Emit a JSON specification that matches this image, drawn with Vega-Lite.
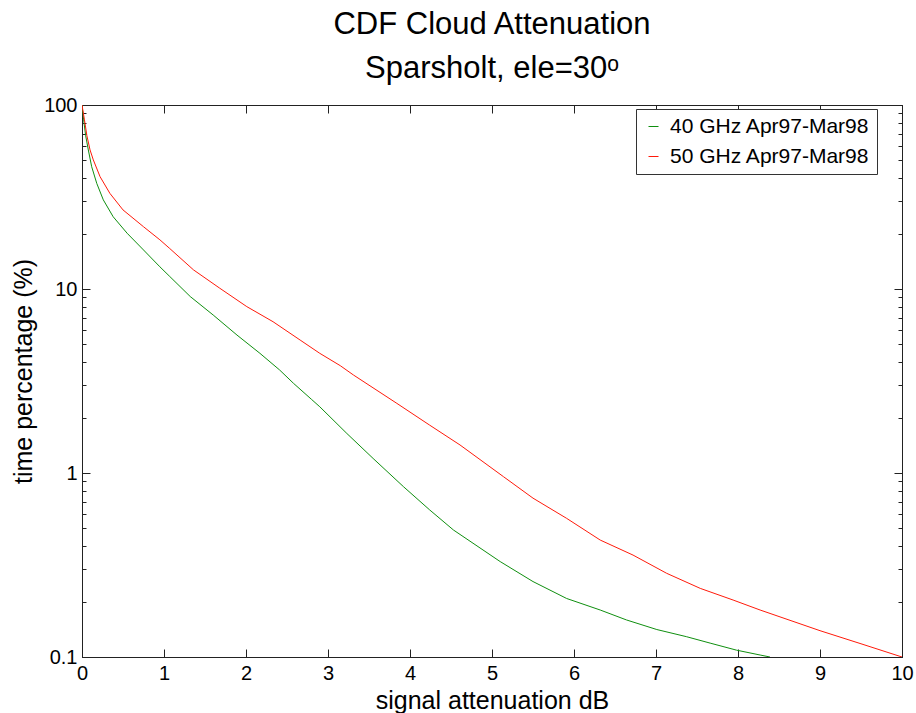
{
  "$schema": "https://vega.github.io/schema/vega-lite/v6.json",
  "width": 820,
  "height": 552,
  "autosize": "none",
  "padding": {"left": 82, "top": 105, "right": 14, "bottom": 56},
  "background": "white",
  "title": {
    "text": ["CDF Cloud Attenuation", "Sparsholt, ele=30ᵒ"],
    "font": "Liberation Sans",
    "fontSize": 31,
    "fontWeight": "normal",
    "color": "black",
    "lineHeight": 44,
    "anchor": "middle",
    "offset": 10
  },
  "data": {
    "values": [
      {"att": 0, "pct": 100, "series": "40 GHz Apr97-Mar98"},
      {"att": 0.02, "pct": 83, "series": "40 GHz Apr97-Mar98"},
      {"att": 0.045, "pct": 68, "series": "40 GHz Apr97-Mar98"},
      {"att": 0.077, "pct": 57, "series": "40 GHz Apr97-Mar98"},
      {"att": 0.118, "pct": 46.2, "series": "40 GHz Apr97-Mar98"},
      {"att": 0.18, "pct": 37.5, "series": "40 GHz Apr97-Mar98"},
      {"att": 0.26, "pct": 30.5, "series": "40 GHz Apr97-Mar98"},
      {"att": 0.38, "pct": 24.7, "series": "40 GHz Apr97-Mar98"},
      {"att": 0.55, "pct": 20.1, "series": "40 GHz Apr97-Mar98"},
      {"att": 0.75, "pct": 16.3, "series": "40 GHz Apr97-Mar98"},
      {"att": 0.95, "pct": 13.2, "series": "40 GHz Apr97-Mar98"},
      {"att": 1.07, "pct": 11.7, "series": "40 GHz Apr97-Mar98"},
      {"att": 1.32, "pct": 9.1, "series": "40 GHz Apr97-Mar98"},
      {"att": 1.6, "pct": 7.22, "series": "40 GHz Apr97-Mar98"},
      {"att": 1.89, "pct": 5.62, "series": "40 GHz Apr97-Mar98"},
      {"att": 2.17, "pct": 4.47, "series": "40 GHz Apr97-Mar98"},
      {"att": 2.41, "pct": 3.63, "series": "40 GHz Apr97-Mar98"},
      {"att": 2.58, "pct": 3.07, "series": "40 GHz Apr97-Mar98"},
      {"att": 2.8, "pct": 2.51, "series": "40 GHz Apr97-Mar98"},
      {"att": 2.9, "pct": 2.29, "series": "40 GHz Apr97-Mar98"},
      {"att": 3.23, "pct": 1.64, "series": "40 GHz Apr97-Mar98"},
      {"att": 3.55, "pct": 1.2, "series": "40 GHz Apr97-Mar98"},
      {"att": 3.92, "pct": 0.843, "series": "40 GHz Apr97-Mar98"},
      {"att": 4.24, "pct": 0.63, "series": "40 GHz Apr97-Mar98"},
      {"att": 4.53, "pct": 0.49, "series": "40 GHz Apr97-Mar98"},
      {"att": 5.1, "pct": 0.33, "series": "40 GHz Apr97-Mar98"},
      {"att": 5.5, "pct": 0.257, "series": "40 GHz Apr97-Mar98"},
      {"att": 5.91, "pct": 0.208, "series": "40 GHz Apr97-Mar98"},
      {"att": 6.32, "pct": 0.18, "series": "40 GHz Apr97-Mar98"},
      {"att": 6.64, "pct": 0.159, "series": "40 GHz Apr97-Mar98"},
      {"att": 7.01, "pct": 0.141, "series": "40 GHz Apr97-Mar98"},
      {"att": 7.37, "pct": 0.129, "series": "40 GHz Apr97-Mar98"},
      {"att": 7.66, "pct": 0.119, "series": "40 GHz Apr97-Mar98"},
      {"att": 7.98, "pct": 0.109, "series": "40 GHz Apr97-Mar98"},
      {"att": 8.27, "pct": 0.1025, "series": "40 GHz Apr97-Mar98"},
      {"att": 8.39, "pct": 0.1, "series": "40 GHz Apr97-Mar98"},
      {"att": 0, "pct": 100, "series": "50 GHz Apr97-Mar98"},
      {"att": 0.03, "pct": 83, "series": "50 GHz Apr97-Mar98"},
      {"att": 0.06, "pct": 68, "series": "50 GHz Apr97-Mar98"},
      {"att": 0.098, "pct": 57, "series": "50 GHz Apr97-Mar98"},
      {"att": 0.138, "pct": 50.3, "series": "50 GHz Apr97-Mar98"},
      {"att": 0.22, "pct": 40.8, "series": "50 GHz Apr97-Mar98"},
      {"att": 0.34, "pct": 33.1, "series": "50 GHz Apr97-Mar98"},
      {"att": 0.5, "pct": 26.9, "series": "50 GHz Apr97-Mar98"},
      {"att": 0.75, "pct": 21.8, "series": "50 GHz Apr97-Mar98"},
      {"att": 0.95, "pct": 18.5, "series": "50 GHz Apr97-Mar98"},
      {"att": 1.07, "pct": 16.6, "series": "50 GHz Apr97-Mar98"},
      {"att": 1.36, "pct": 12.7, "series": "50 GHz Apr97-Mar98"},
      {"att": 1.68, "pct": 10.1, "series": "50 GHz Apr97-Mar98"},
      {"att": 2.01, "pct": 8.02, "series": "50 GHz Apr97-Mar98"},
      {"att": 2.33, "pct": 6.64, "series": "50 GHz Apr97-Mar98"},
      {"att": 2.66, "pct": 5.28, "series": "50 GHz Apr97-Mar98"},
      {"att": 2.9, "pct": 4.47, "series": "50 GHz Apr97-Mar98"},
      {"att": 3.15, "pct": 3.83, "series": "50 GHz Apr97-Mar98"},
      {"att": 3.31, "pct": 3.41, "series": "50 GHz Apr97-Mar98"},
      {"att": 3.84, "pct": 2.39, "series": "50 GHz Apr97-Mar98"},
      {"att": 4.24, "pct": 1.82, "series": "50 GHz Apr97-Mar98"},
      {"att": 4.61, "pct": 1.42, "series": "50 GHz Apr97-Mar98"},
      {"att": 5.14, "pct": 0.955, "series": "50 GHz Apr97-Mar98"},
      {"att": 5.5, "pct": 0.73, "series": "50 GHz Apr97-Mar98"},
      {"att": 5.91, "pct": 0.567, "series": "50 GHz Apr97-Mar98"},
      {"att": 6.32, "pct": 0.432, "series": "50 GHz Apr97-Mar98"},
      {"att": 6.72, "pct": 0.358, "series": "50 GHz Apr97-Mar98"},
      {"att": 7.13, "pct": 0.285, "series": "50 GHz Apr97-Mar98"},
      {"att": 7.54, "pct": 0.236, "series": "50 GHz Apr97-Mar98"},
      {"att": 7.94, "pct": 0.204, "series": "50 GHz Apr97-Mar98"},
      {"att": 8.27, "pct": 0.18, "series": "50 GHz Apr97-Mar98"},
      {"att": 9.0, "pct": 0.139, "series": "50 GHz Apr97-Mar98"},
      {"att": 9.5, "pct": 0.118, "series": "50 GHz Apr97-Mar98"},
      {"att": 10.0, "pct": 0.1, "series": "50 GHz Apr97-Mar98"}
    ]
  },
  "resolve": {"axis": {"x": "independent", "y": "independent"}},
  "layer": [
    {
      "mark": {"type": "line", "strokeWidth": 1, "clip": true},
      "encoding": {
        "x": {
          "field": "att", "type": "quantitative",
          "scale": {"domain": [0, 10], "nice": false, "zero": false},
          "axis": {
            "orient": "bottom", "values": [0,1,2,3,4,5,6,7,8,9,10],
            "title": "signal attenuation dB", "tickSize": -8, "labelPadding": 14,
            "titlePadding": 5
          }
        },
        "y": {
          "field": "pct", "type": "quantitative",
          "scale": {"type": "log", "domain": [0.1, 100], "nice": false},
          "axis": {
            "orient": "left", "values": [0.1, 1, 10, 100],
            "title": "time percentage (%)", "tickSize": -8, "labelPadding": 13,
            "titlePadding": 7, "titleY": 266
          }
        },
        "color": {
          "field": "series", "type": "nominal",
          "scale": {"domain": ["40 GHz Apr97-Mar98", "50 GHz Apr97-Mar98"], "range": ["#0f8f0f", "#ff1a0a"]},
          "legend": {
            "title": null, "orient": "none", "legendX": 554, "legendY": 4,
            "symbolType": "stroke", "symbolStrokeWidth": 1,
            "labelFontSize": 21, "labelFont": "Liberation Sans", "labelColor": "black",
            "labelLimit": 400,
            "fillColor": "white", "strokeColor": "#333", "padding": 7, "rowPadding": 8,
            "labelOffset": 6
          }
        }
      }
    },
    {
      "mark": {"type": "line", "strokeOpacity": 0},
      "encoding": {
        "x": {"field": "att", "type": "quantitative",
          "axis": {"orient": "top", "values": [0,1,2,3,4,5,6,7,8,9,10], "labels": false, "title": null, "tickSize": -8}},
        "y": {"field": "pct", "type": "quantitative",
          "axis": {"orient": "right", "values": [0.1, 1, 10, 100], "labels": false, "title": null, "tickSize": -8}},
        "detail": {"field": "series"}
      }
    },
    {
      "mark": {"type": "line", "strokeOpacity": 0},
      "encoding": {
        "x": {"field": "att", "type": "quantitative", "axis": null},
        "y": {"field": "pct", "type": "quantitative",
          "axis": {"orient": "left", "values": [0.2,0.3,0.4,0.5,0.6,0.7,0.8,0.9,2,3,4,5,6,7,8,9,20,30,40,50,60,70,80,90], "labels": false, "title": null, "tickSize": -4, "domain": false}},
        "detail": {"field": "series"}
      }
    },
    {
      "mark": {"type": "line", "strokeOpacity": 0},
      "encoding": {
        "x": {"field": "att", "type": "quantitative", "axis": null},
        "y": {"field": "pct", "type": "quantitative",
          "axis": {"orient": "right", "values": [0.2,0.3,0.4,0.5,0.6,0.7,0.8,0.9,2,3,4,5,6,7,8,9,20,30,40,50,60,70,80,90], "labels": false, "title": null, "tickSize": -4, "domain": false}},
        "detail": {"field": "series"}
      }
    }
  ],
  "config": {
    "view": {"stroke": "#222", "strokeWidth": 1},
    "axis": {
      "grid": false,
      "domainColor": "#222",
      "tickColor": "#222",
      "labelFont": "Liberation Sans",
      "labelFontSize": 20,
      "labelColor": "black",
      "titleFont": "Liberation Sans",
      "titleFontSize": 25,
      "titleFontWeight": "normal",
      "titleColor": "black",
      "labelFlush": false,
      "labelOverlap": false
    }
  }
}
